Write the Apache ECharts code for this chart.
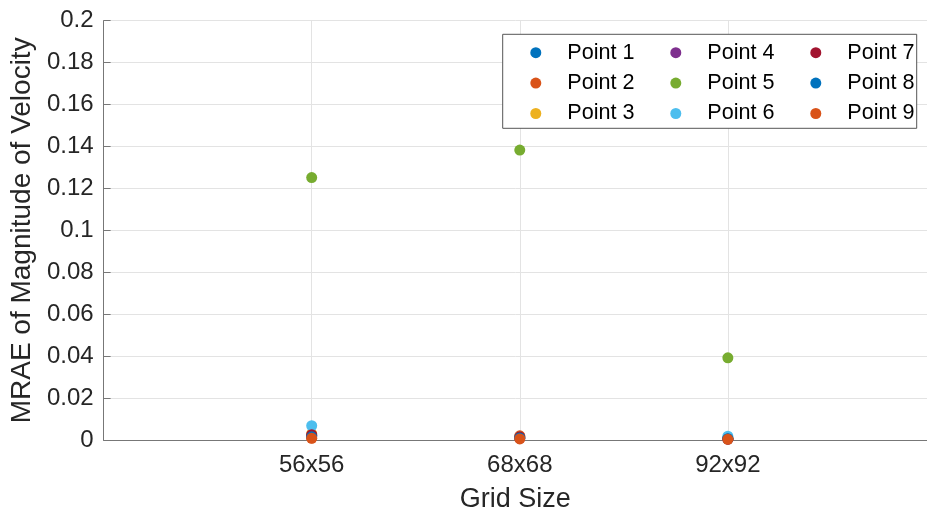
<!DOCTYPE html>
<html>
<head>
<meta charset="utf-8">
<script src="https://cdn.jsdelivr.net/npm/echarts@6/dist/echarts.min.js"></script>
<style>html,body{margin:0;padding:0;background:#fff}#c{width:927px;height:518px}</style>
</head>
<body>
<div id="c"></div>
<script>
var categories = ['56x56', '68x68', '92x92'];
var seriesNames = ['Point 1','Point 2','Point 3','Point 4','Point 5','Point 6','Point 7','Point 8','Point 9'];
var point1 = [0.0020, 0.0010, 0.0008];
var point2 = [0.0010, 0.0020, 0.0005];
var point3 = [0.0030, 0.0015, 0.0006];
var point4 = [0.0020, 0.0008, 0.0004];
var point5 = [0.1252, 0.1383, 0.0392];
var point6 = [0.0068, 0.0012, 0.0018];
var point7 = [0.0025, 0.0015, 0.0005];
var point8 = [0.0015, 0.0010, 0.0006];
var point9 = [0.0008, 0.0005, 0.0003];
var yTicks = [0, 0.02, 0.04, 0.06, 0.08, 0.1, 0.12, 0.14, 0.16, 0.18, 0.2];

var values = [point1, point2, point3, point4, point5, point6, point7, point8, point9];
var colors = ['#0072BD','#D95319','#EDB120','#7E2F8E','#77AC30','#4DBEEE','#A2142F','#0072BD','#D95319'];
var FONT = 'Liberation Sans, Arial, Helvetica, sans-serif';

var series = values.map(function (v, i) {
  return {
    name: seriesNames[i],
    type: 'scatter',
    symbol: 'circle',
    symbolSize: 11,
    itemStyle: { color: colors[i], opacity: 1 },
    data: v.map(function (y, j) { return [j + 1, y]; }),
    z: 2
  };
});

function legendCol(names, left) {
  return {
    orient: 'vertical',
    left: left,
    top: 41.7,
    icon: 'circle',
    itemWidth: 53,
    itemHeight: 11,
    itemGap: 8.4,
    padding: 0,
    z: 6,
    textStyle: { fontFamily: FONT, fontSize: 21.6, color: '#000', lineHeight: 20 },
    data: names
  };
}

var chart = echarts.init(document.getElementById('c'), null, { renderer: 'canvas' });
chart.setOption({
  animation: false,
  backgroundColor: '#fff',
  color: colors,
  grid: { left: 102, top: 20.7, bottom: 75.7, right: 0, containLabel: false },
  xAxis: {
    type: 'value',
    min: 0, max: 3.957, interval: 1,
    name: 'Grid Size',
    nameLocation: 'middle',
    nameGap: 46,
    nameTextStyle: { fontFamily: FONT, fontSize: 27, color: '#262626' },
    axisLine: { show: true, onZero: false, lineStyle: { color: '#777', width: 1 } },
    axisTick: { show: true, inside: true, length: 7, lineStyle: { color: '#777' } },
    axisLabel: {
      margin: 13,
      fontFamily: FONT, fontSize: 24, color: '#262626',
      showMaxLabel: false,
      formatter: function (v) { var k = Math.round(v) - 1; return (Math.abs(v - Math.round(v)) < 1e-6 && k >= 0 && k < categories.length) ? categories[k] : ''; }
    },
    splitLine: { show: true, lineStyle: { color: '#e3e3e3', width: 1 } }
  },
  yAxis: {
    type: 'value',
    min: yTicks[0], max: yTicks[yTicks.length - 1], interval: 0.02,
    name: 'MRAE of Magnitude of Velocity',
    nameLocation: 'middle',
    nameGap: 53,
    nameTextStyle: { fontFamily: FONT, fontSize: 28, color: '#262626' },
    axisLine: { show: true, lineStyle: { color: '#777', width: 1 } },
    axisTick: { show: true, inside: true, length: 7, lineStyle: { color: '#777' } },
    axisLabel: {
      margin: 10,
      fontFamily: FONT, fontSize: 24, color: '#262626',
      formatter: function (v) { return String(parseFloat(v.toFixed(4))); }
    },
    splitLine: { show: true, lineStyle: { color: '#e3e3e3', width: 1 } }
  },
  legend: [
    legendCol(seriesNames.slice(0, 3), 530.3),
    legendCol(seriesNames.slice(3, 6), 670.3),
    legendCol(seriesNames.slice(6, 9), 810.3)
  ],
  graphic: [{
    type: 'rect',
    z: 4,
    shape: { x: 502.7, y: 34.3, width: 414, height: 94 },
    style: { fill: '#fff', stroke: '#555', lineWidth: 1 }
  }],
  series: series
});
</script>
</body>
</html>
